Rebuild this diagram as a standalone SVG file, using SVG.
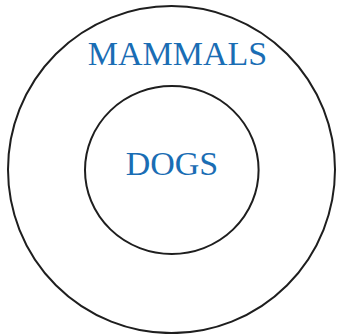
<svg xmlns="http://www.w3.org/2000/svg" width="339" height="334" viewBox="0 0 339 334">
<style>
.c{fill:none;stroke:#1e1e1e;stroke-width:2}
.t{font-family:"Liberation Serif","DejaVu Serif",serif;font-size:34px;fill:#1a6db4;text-anchor:middle}
</style>
<rect width="339" height="334" fill="#fff"/>
<g id="mammals">
<circle class="c" cx="171.5" cy="169.6" r="163.5"/>
<text class="t" x="177.5" y="65">MAMMALS</text>
</g>
<g id="dogs">
<ellipse class="c" cx="171.8" cy="170" rx="86.8" ry="84"/>
<text class="t" x="172" y="175">DOGS</text>
</g>
<g id="connectors"></g>
</svg>
